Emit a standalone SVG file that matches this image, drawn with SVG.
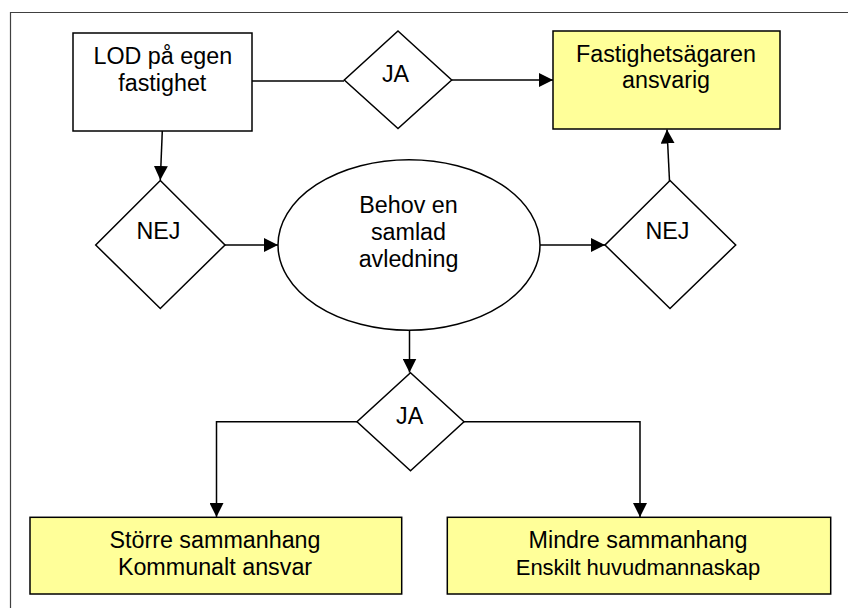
<svg xmlns="http://www.w3.org/2000/svg" width="848" height="608" viewBox="0 0 848 608">
  <style>
    .shape { fill: #ffffff; stroke: #000000; stroke-width: 1.5; }
    .result { fill: #ffff99; stroke: #000000; stroke-width: 1.5; }
    .label { font-family: "Liberation Sans", Arial, Helvetica, sans-serif; font-size: 23.3px; fill: #000000; text-anchor: middle; }
    .edge { fill: none; stroke: #000000; stroke-width: 1.5; }
  </style>
  <defs>
    <marker id="arrow" markerUnits="userSpaceOnUse" markerWidth="15" markerHeight="14" refX="14" refY="7" orient="auto">
      <path d="M0,0 L14,7 L0,14 Z" fill="#000000"/>
    </marker>
  </defs>

  <rect width="848" height="608" fill="#ffffff"/>

  <!-- page frame (top and left edges) -->
  <path d="M10.5,608 V12.5 H848" fill="none" stroke="#404040" stroke-width="1.2"/>

  <!-- connectors -->
  <g id="connectors">
    <path class="edge" d="M252,81 H344"/>
    <path class="edge" d="M452,80 H553" marker-end="url(#arrow)"/>
    <path class="edge" d="M162.3,131 L160.3,180" marker-end="url(#arrow)"/>
    <path class="edge" d="M225,245 H278" marker-end="url(#arrow)"/>
    <path class="edge" d="M540,245 H605" marker-end="url(#arrow)"/>
    <path class="edge" d="M669.5,181 L667,129.5" marker-end="url(#arrow)"/>
    <path class="edge" d="M409.5,330 V372.5" marker-end="url(#arrow)"/>
    <path class="edge" d="M357,421.7 H216.5 V517" marker-end="url(#arrow)"/>
    <path class="edge" d="M464,421.7 H640 V517" marker-end="url(#arrow)"/>
  </g>

  <g id="lod">
    <rect class="shape" x="73" y="33" width="179" height="98"/>
    <text class="label" x="162.8" y="64">LOD på egen</text>
    <text class="label" x="162.3" y="90.7">fastighet</text>
  </g>

  <g id="ja-top">
    <polygon class="shape" points="398,31 451.7,80 398,128.5 344.3,80"/>
    <text class="label" x="395.5" y="81.5">JA</text>
  </g>

  <g id="fastighetsagaren">
    <rect class="result" x="553" y="31" width="227" height="98"/>
    <text class="label" x="666" y="62.3">Fastighetsägaren</text>
    <text class="label" x="666" y="87.5">ansvarig</text>
  </g>

  <g id="nej-left">
    <polygon class="shape" points="160.3,180.5 225,245 160.3,308.5 95.7,245"/>
    <text class="label" x="158.5" y="239">NEJ</text>
  </g>

  <g id="behov">
    <ellipse class="shape" cx="409" cy="245" rx="131" ry="85.3"/>
    <text class="label" x="408.5" y="213.3">Behov en</text>
    <text class="label" x="408.5" y="240">samlad</text>
    <text class="label" x="408.5" y="266.7">avledning</text>
  </g>

  <g id="nej-right">
    <polygon class="shape" points="670,180.5 735.7,245 670,308.5 605,245"/>
    <text class="label" x="667.5" y="239">NEJ</text>
  </g>

  <g id="ja-bottom">
    <polygon class="shape" points="410.5,372.7 464,421.7 410.5,470.7 357,421.7"/>
    <text class="label" x="409.7" y="424">JA</text>
  </g>

  <g id="storre">
    <rect class="result" x="30" y="517.3" width="371.7" height="76.7"/>
    <text class="label" x="215" y="548.3">Större sammanhang</text>
    <text class="label" x="215" y="575">Kommunalt ansvar</text>
  </g>

  <g id="mindre">
    <rect class="result" x="447.3" y="517.3" width="383.4" height="76.7"/>
    <text class="label" x="638" y="548.3">Mindre sammanhang</text>
    <text class="label" x="638" y="575" style="font-size:22px">Enskilt huvudmannaskap</text>
  </g>
</svg>
